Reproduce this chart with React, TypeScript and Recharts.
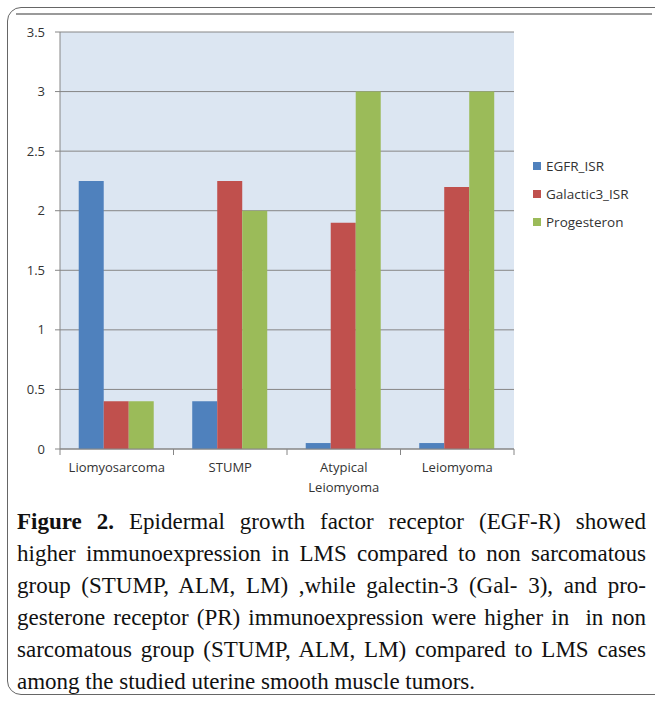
import { BarChart, Bar, XAxis, YAxis, CartesianGrid, Text } from "recharts";

const categories = ["Liomyosarcoma", "STUMP", "Atypical Leiomyoma", "Leiomyoma"];
const egfr = [2.25, 0.4, 0.05, 0.05];
const galectin = [0.4, 2.25, 1.9, 2.2];
const progesteron = [0.4, 2.0, 3.0, 3.0];
const yTicks = [0, 0.5, 1, 1.5, 2, 2.5, 3, 3.5];

const series = [
  { key: "egfr", name: "EGFR_ISR", color: "#4F81BD" },
  { key: "galectin", name: "Galactic3_ISR", color: "#C0504D" },
  { key: "progesteron", name: "Progesteron", color: "#9BBB59" },
];

const captionLines = [
  "Epidermal growth factor receptor (EGF-R) showed",
  "higher immunoexpression in LMS compared to non sarcomatous",
  "group (STUMP, ALM, LM) ,while galectin-3 (Gal- 3), and pro-",
  "gesterone receptor (PR) immunoexpression were higher in \u00a0in non",
  "sarcomatous group (STUMP, ALM, LM) compared to LMS cases",
  "among the studied uterine smooth muscle tumors.",
];

const data = categories.map((name, i) => ({
  name,
  egfr: egfr[i],
  galectin: galectin[i],
  progesteron: progesteron[i],
}));

const W = 655;
const H = 510;
const margin = { top: 32, right: 141, bottom: 31, left: 0 };
const band = (W - 60 - margin.right) / categories.length;
const axisColor = "#868686";
const font = "'Open Sans', 'DejaVu Sans', sans-serif";

const CatTick = (props: any) => {
  const { x, y, payload, index } = props;
  return (
    <g>
      <line x1={x - band / 2} x2={x - band / 2} y1={y - 8} y2={y - 2} stroke={axisColor} />
      {index === categories.length - 1 && (
        <line x1={x + band / 2} x2={x + band / 2} y1={y - 8} y2={y - 2} stroke={axisColor} />
      )}
      <Text
        x={x}
        y={y + 6}
        width={90}
        textAnchor="middle"
        verticalAnchor="start"
        lineHeight={20}
        fill="#333"
        fontSize={13}
        fontFamily={font}
      >
        {payload.value}
      </Text>
    </g>
  );
};

export default function App() {
  return (
    <div style={{ position: "absolute", left: 0, top: 0, width: W, height: 701, background: "#fff", overflow: "hidden" }}>
      <div
        style={{
          position: "absolute",
          left: 7,
          top: 7,
          width: 660,
          height: 686,
          border: "1.5px solid #666",
          borderRadius: 14,
        }}
      />
      <div style={{ position: "absolute", left: 16, top: 13, width: 636, height: 2, background: "#9a9a9a" }} />
      <div style={{ position: "absolute", left: 0, top: 0 }}>
        <BarChart width={W} height={H} data={data} margin={margin} barCategoryGap="16.5%" barGap={0}>
          <CartesianGrid vertical={false} stroke={axisColor} fill="#DCE6F2" fillOpacity={1} />
          <XAxis
            dataKey="name"
            stroke={axisColor}
            tickLine={false}
            tick={<CatTick />}
            interval={0}
            height={30}
          />
          <YAxis
            domain={[0, 3.5]}
            ticks={yTicks}
            width={60}
            stroke={axisColor}
            tickSize={5}
            tickMargin={10}
            tick={{ fill: "#333", fontSize: 13, fontFamily: font }}
          />
          {series.map((s) => (
            <Bar key={s.key} dataKey={s.key} name={s.name} fill={s.color} isAnimationActive={false} />
          ))}
        </BarChart>
      </div>
      <div style={{ position: "absolute", left: 533, top: 152, fontFamily: font, fontSize: 13.5, color: "#333" }}>
        {series.map((s) => (
          <div key={s.key} style={{ display: "flex", alignItems: "center", height: 28 }}>
            <span style={{ width: 8, height: 8, background: s.color, marginRight: 5 }} />
            {s.name}
          </div>
        ))}
      </div>
      <div
        style={{
          position: "absolute",
          left: 17,
          top: 506,
          width: 629,
          fontFamily: "'Liberation Serif', 'Times New Roman', serif",
          fontSize: 23,
          lineHeight: "32px",
          color: "#111",
        }}
      >
        {captionLines.map((line, i) => (
          <div
            key={i}
            style={{
              textAlign: "justify",
              textAlignLast: i < captionLines.length - 1 ? "justify" : "left",
              whiteSpace: "nowrap",
            }}
          >
            {i === 0 && <b>Figure 2. </b>}
            {line}
          </div>
        ))}
      </div>
    </div>
  );
}
